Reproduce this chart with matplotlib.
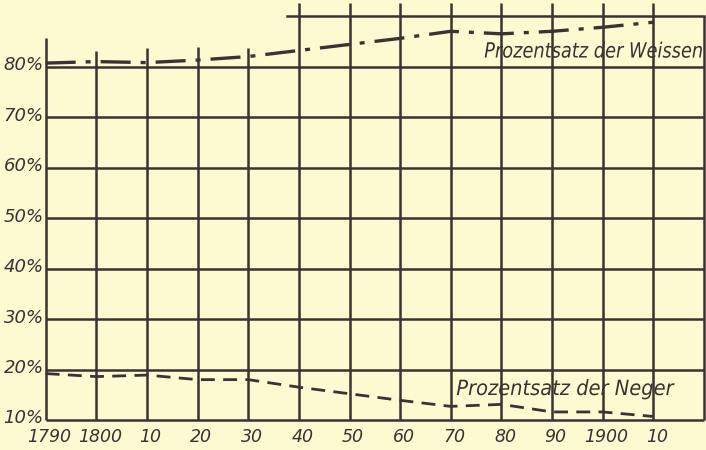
import matplotlib.pyplot as plt
from matplotlib.textpath import TextPath
from matplotlib.patches import PathPatch
from matplotlib.font_manager import FontProperties
from matplotlib.transforms import Affine2D

# census years and share of population (%)
years = [1790, 1800, 1810, 1820, 1830, 1840, 1850, 1860, 1870, 1880, 1890, 1900, 1910]
weisse = [80.7, 81.0, 80.8, 81.3, 82.0, 83.2, 84.4, 85.6, 87.0, 86.5, 87.0, 87.8, 88.8]
neger = [19.2, 18.6, 18.9, 18.0, 18.0, 16.5, 15.2, 13.9, 12.7, 13.1, 11.6, 11.6, 10.7]

x_labels = ['1790', '1800', '10', '20', '30', '40', '50', '60', '70', '80', '90', '1900', '10']
y_ticks = [10, 20, 30, 40, 50, 60, 70, 80]
y_labels = ['10%', '20%', '30%', '40%', '50%', '60%', '70%', '80%']

# heights of the vertical grid lines above the 80% line
grid_years = years + [1920]
grid_tops = [85.6, 83.0, 83.6, 83.8, 83.7, 92.6, 92.6, 92.6, 92.6, 92.6, 92.6, 92.6, 92.6, 90.0]

bg = '#fcfad0'
ink = '#3b3233'

fig = plt.figure(figsize=(7.06, 4.5), dpi=100)
fig.patch.set_facecolor(bg)
ax = fig.add_axes([0, 0, 1, 1])
ax.set_facecolor(bg)
ax.set_xlim(1780.98, 1920.4)
ax.set_ylim(4.06, 93.2)
ax.axis('off')

# grid
for yv in y_ticks:
    ax.plot([1790, 1920], [yv, yv], color=ink, lw=1.8, solid_capstyle='butt')
ax.plot([1837.6, 1920], [90, 90], color=ink, lw=1.8)
for xv, top in zip(grid_years, grid_tops):
    ax.plot([xv, xv], [10, top], color=ink, lw=1.8, solid_capstyle='butt')

# data lines
ax.plot(years, weisse, color=ink, lw=2.4, dashes=(9, 3, 1.5, 3))
ax.plot(years, neger, color=ink, lw=2.0, dashes=(5, 3))

for yv, lab in zip(y_ticks, y_labels):
    ax.text(1789.6, yv + 0.3, lab, ha='right', va='center', fontsize=13,
            style='italic', color=ink, family='DejaVu Sans')
for xv, lab in zip(years, x_labels):
    ax.text(xv + 0.7, 6.6, lab, ha='center', va='center', fontsize=12.5,
            style='italic', color=ink, family='DejaVu Sans')


def narrow_label(text, x0, x1, base_y, em_px):
    # condensed italic label squeezed between x0 and x1 (data units)
    fp = FontProperties(family='DejaVu Sans', style='italic')
    tp = TextPath((0, 0), text, size=em_px, prop=fp)
    ext = tp.get_extents()
    p0 = ax.transData.transform((x0, base_y))
    p1 = ax.transData.transform((x1, base_y))
    sx = (p1[0] - p0[0]) / ext.width
    tr = Affine2D().translate(-ext.x0, 0).scale(sx, 1).translate(p0[0], p0[1])
    fig.patches.append(PathPatch(tp, transform=tr, facecolor=ink, edgecolor='none',
                                 figure=fig))


narrow_label('Prozentsatz der Weissen', 1876.7, 1919.6, 81.8, 21)
narrow_label('Prozentsatz der Neger', 1871.2, 1914.2, 14.95, 21)

fig.savefig('out.png', dpi=100, facecolor=bg)
